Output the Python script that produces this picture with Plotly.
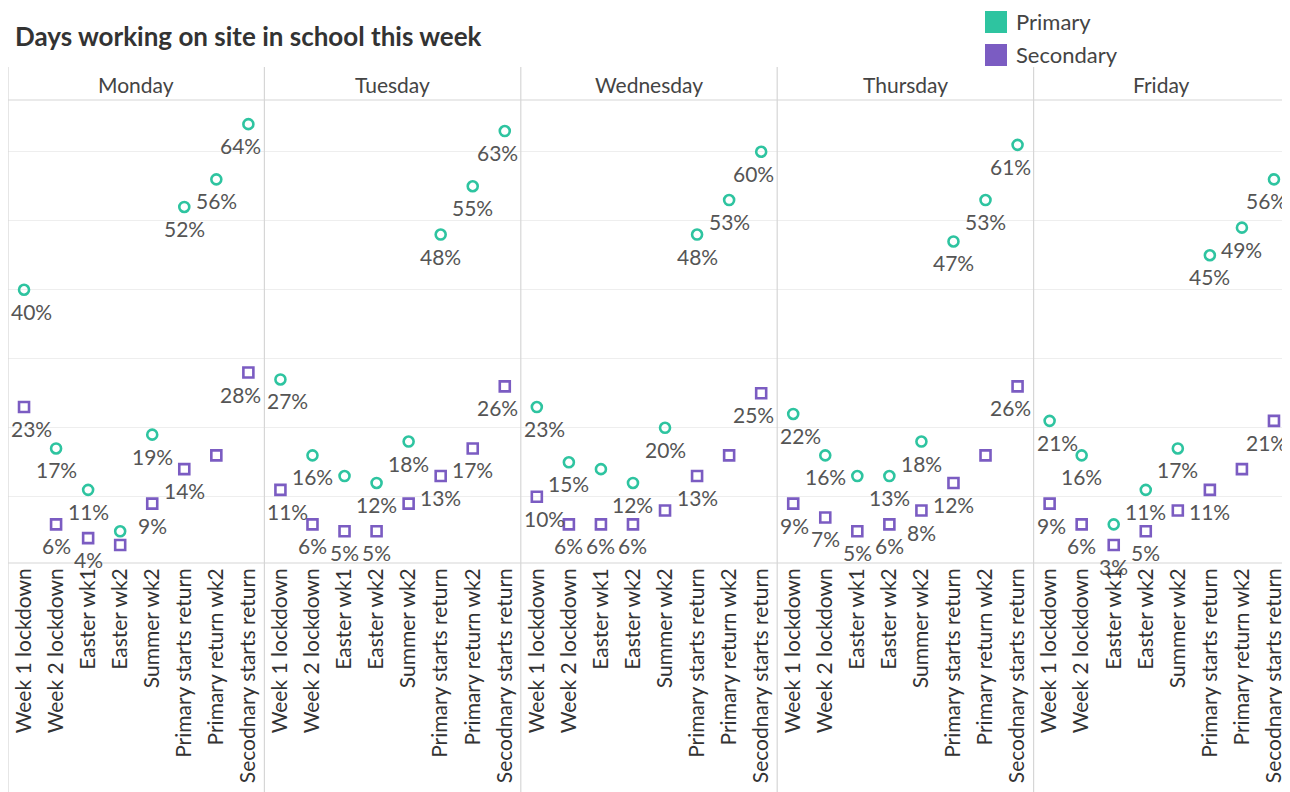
import plotly.graph_objects as go
from plotly.subplots import make_subplots

days = ['Monday', 'Tuesday', 'Wednesday', 'Thursday', 'Friday']
weeks = ['Week 1 lockdown', 'Week 2 lockdown', 'Easter wk1', 'Easter wk2',
         'Summer wk2', 'Primary starts return', 'Primary return wk2',
         'Secodnary starts return']

# percent of staff on site, per day, per week
primary = {
    'Monday':    [40, 17, 11, 5, 19, 52, 56, 64],
    'Tuesday':   [27, 16, 13, 12, 18, 48, 55, 63],
    'Wednesday': [23, 15, 14, 12, 20, 48, 53, 60],
    'Thursday':  [22, 16, 13, 13, 18, 47, 53, 61],
    'Friday':    [21, 16, 6, 11, 17, 45, 49, 56],
}
secondary = {
    'Monday':    [23, 6, 4, 3, 9, 14, 16, 28],
    'Tuesday':   [11, 6, 5, 5, 9, 13, 17, 26],
    'Wednesday': [10, 6, 6, 6, 8, 13, 16, 25],
    'Thursday':  [9, 7, 5, 6, 8, 12, 16, 26],
    'Friday':    [9, 6, 3, 5, 8, 11, 14, 21],
}
# which labels the original shows (overlapping ones were hidden)
primary_shown = {
    'Monday':    [1, 1, 1, 0, 1, 1, 1, 1],
    'Tuesday':   [1, 1, 0, 1, 1, 1, 1, 1],
    'Wednesday': [1, 1, 0, 1, 1, 1, 1, 1],
    'Thursday':  [1, 1, 0, 1, 1, 1, 1, 1],
    'Friday':    [1, 1, 0, 1, 1, 1, 1, 1],
}
secondary_shown = {
    'Monday':    [1, 1, 1, 0, 1, 1, 0, 1],
    'Tuesday':   [1, 1, 1, 1, 0, 1, 1, 1],
    'Wednesday': [1, 1, 1, 1, 0, 1, 0, 1],
    'Thursday':  [1, 1, 1, 1, 1, 1, 0, 1],
    'Friday':    [1, 1, 1, 1, 0, 1, 0, 1],
}

TEAL = '#2ec4a0'
PURPLE = '#7b5cc2'
LINE = '#d6d6d6'
FONT = 'Lato'

# page body has an 8px margin, so the figure sits at (8, 8) on screen
OFF = 8
W, H = 1282, 784
L, R, T, B = 0, 0, 92, 229


def px(xs):
    # screen x -> paper x
    return (xs - OFF - L) / (W - L - R)


def py(ys):
    # screen y -> paper y
    return (H - B - (ys - OFF)) / (H - T - B)


fig = make_subplots(rows=1, cols=5, shared_yaxes=True, horizontal_spacing=0)

annotations = []
for i, day in enumerate(days):
    col = i + 1
    fig.add_trace(go.Scatter(
        x=weeks, y=primary[day], mode='markers', cliponaxis=False,
        marker=dict(symbol='circle-open', size=10, color=TEAL,
                    line=dict(width=2.6, color=TEAL)),
        name='Primary', showlegend=False), row=1, col=col)
    fig.add_trace(go.Scatter(
        x=weeks, y=secondary[day], mode='markers', cliponaxis=False,
        marker=dict(symbol='square-open', size=10, color=PURPLE,
                    line=dict(width=2.6, color=PURPLE)),
        name='Secondary', showlegend=False), row=1, col=col)
    fig.update_xaxes(type='category', categoryorder='array', categoryarray=weeks,
                     range=[-0.5, 7.5], tickangle=-90, showgrid=False,
                     ticks='', zeroline=False, showline=False, automargin=False,
                     tickfont=dict(family=FONT, size=21, color='#333333'),
                     row=1, col=col)

    # value labels under the marks, kept inside the pane like the original
    xr = 'x' if col == 1 else f'x{col}'
    yr = 'y' if col == 1 else f'y{col}'
    for vals, shown in [(primary[day], primary_shown[day]),
                        (secondary[day], secondary_shown[day])]:
        for j, (wk, v, s) in enumerate(zip(weeks, vals, shown)):
            if not s:
                continue
            anchor, shift = 'center', 0
            if j == 0:
                anchor, shift = 'left', -15
            elif j == len(weeks) - 1:
                anchor, shift = 'right', 15
            annotations.append(dict(
                text=f'{v}%', x=wk, y=v, xref=xr, yref=yr, showarrow=False,
                xanchor=anchor, yanchor='top', xshift=shift, yshift=-7,
                font=dict(family=FONT, size=21, color='#555555')))

fig.update_yaxes(range=[0.4, 67.5], dtick=10, showgrid=True, gridcolor='#eeeeee',
                 gridwidth=1, showticklabels=False, ticks='', zeroline=False,
                 showline=False, automargin=False)

shapes = []
# facet separators, running through header and tick label area
for k in range(5):
    xb = 8 + k * 256.4
    shapes.append(dict(type='line', xref='paper', yref='paper',
                       x0=px(xb), x1=px(xb), y0=py(67), y1=py(800),
                       line=dict(color=LINE, width=1.2)))
for yb in [100, 563]:
    shapes.append(dict(type='line', xref='paper', yref='paper',
                       x0=px(8), x1=px(1290), y0=py(yb), y1=py(yb),
                       line=dict(color=LINE, width=1.2)))
# legend swatches
shapes.append(dict(type='rect', xref='paper', yref='paper',
                   x0=px(985), x1=px(1007), y0=py(11), y1=py(33),
                   fillcolor=TEAL, line=dict(width=0)))
shapes.append(dict(type='rect', xref='paper', yref='paper',
                   x0=px(985), x1=px(1007), y0=py(44), y1=py(66),
                   fillcolor=PURPLE, line=dict(width=0)))

for i, day in enumerate(days):
    xc = 8 + (i + 0.5) * 256.4
    annotations.append(dict(text=day, xref='paper', yref='paper',
                            x=px(xc), y=py(84), showarrow=False,
                            xanchor='center', yanchor='middle',
                            font=dict(family=FONT, size=21, color='#444444')))
annotations.append(dict(text='<b>Days working on site in school this week</b>',
                        xref='paper', yref='paper', x=px(13), y=py(36),
                        showarrow=False, xanchor='left', yanchor='middle',
                        font=dict(family=FONT, size=26, color='#333333')))
for label, yc in [('Primary', 22), ('Secondary', 55)]:
    annotations.append(dict(text=label, xref='paper', yref='paper',
                            x=px(1014), y=py(yc), showarrow=False,
                            xanchor='left', yanchor='middle',
                            font=dict(family=FONT, size=22, color='#444444')))

fig.update_layout(
    width=W, height=H,
    margin=dict(l=L, r=R, t=T, b=B),
    paper_bgcolor='white', plot_bgcolor='white',
    showlegend=False,
    shapes=shapes, annotations=annotations,
    font=dict(family=FONT),
)

fig.write_html('out.html')
